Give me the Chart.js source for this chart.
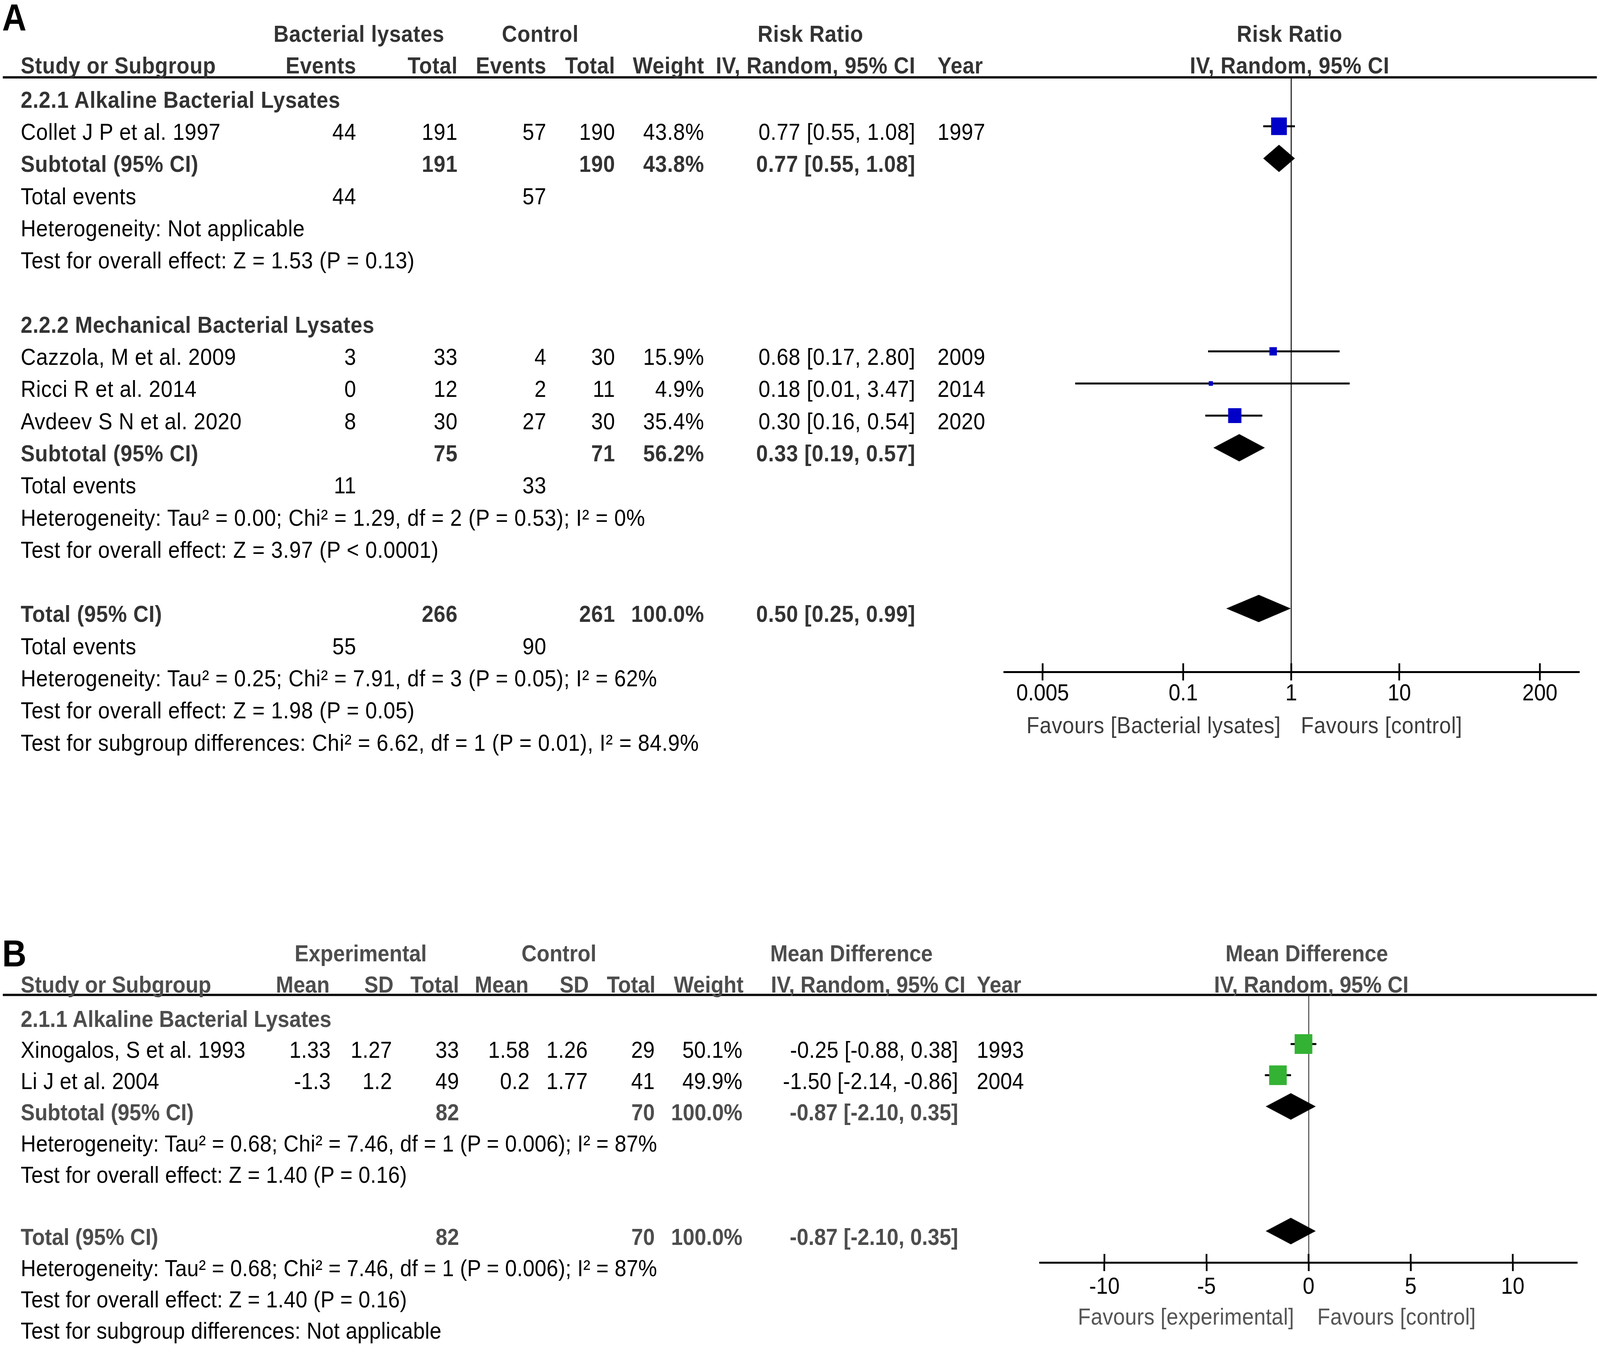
<!DOCTYPE html>
<html>
<head>
<meta charset="utf-8">
<script src="https://cdn.jsdelivr.net/npm/chart.js@4.4.1/dist/chart.umd.min.js"></script>
<style>
  html, body { margin: 0; padding: 0; background: #fff; overflow: hidden; }
  #page { position: absolute; left: 0; top: 0; width: 4562px; height: 3456px; overflow: hidden;
          transform-origin: 0 0; background: #fff; font-family: "Liberation Sans", Arial, sans-serif; }
  .t { position: absolute; white-space: nowrap; font-size: 60px; line-height: 60px; color: #000; }
  .b { font-weight: bold; }
  .rule { position: absolute; left: 8px; width: 4545px; height: 6px; background: #111; }
  canvas { position: absolute; }
</style>
</head>
<body>
<div id="page">
  <canvas id="chartA"></canvas>
  <canvas id="chartB"></canvas>
  <div class="rule" style="top:195px"></div>
  <div class="rule" style="top:2544px"></div>
</div>
<script>
// ---- Panel A: Risk Ratio, IV, Random, 95% CI ----
const studiesA = ['Collet J P et al. 1997', 'Cazzola, M et al. 2009', 'Ricci R et al. 2014', 'Avdeev S N et al. 2020'];
const rowA = [1, 8, 9, 10];
const eventsExpA = [44, 3, 0, 8];
const totalExpA = [191, 33, 12, 30];
const eventsCtlA = [57, 4, 2, 27];
const totalCtlA = [190, 30, 11, 30];
const weightA = [43.8, 15.9, 4.9, 35.4];
const rrA = [0.77, 0.68, 0.18, 0.30];
const rrLowA = [0.55, 0.17, 0.01, 0.16];
const rrHighA = [1.08, 2.80, 3.47, 0.54];
const yearA = [1997, 2009, 2014, 2020];

const pooledLabelA = ['Subtotal (95% CI)', 'Subtotal (95% CI)', 'Total (95% CI)'];
const pooledRowA = [2, 11, 16];
const pooledTotalExpA = [191, 75, 266];
const pooledTotalCtlA = [190, 71, 261];
const pooledWeightA = [43.8, 56.2, 100.0];
const pooledRrA = [0.77, 0.33, 0.50];
const pooledLowA = [0.55, 0.19, 0.25];
const pooledHighA = [1.08, 0.57, 0.99];

const totalEventsRowA = [3, 12, 17];
const totalEventsExpA = [44, 11, 55];
const totalEventsCtlA = [57, 33, 90];

const headingsA = [[0, '2.2.1 Alkaline Bacterial Lysates'], [7, '2.2.2 Mechanical Bacterial Lysates']];
const statsA = [
  [4, 'Heterogeneity: Not applicable'],
  [5, 'Test for overall effect: Z = 1.53 (P = 0.13)'],
  [13, 'Heterogeneity: Tau² = 0.00; Chi² = 1.29, df = 2 (P = 0.53); I² = 0%'],
  [14, 'Test for overall effect: Z = 3.97 (P < 0.0001)'],
  [18, 'Heterogeneity: Tau² = 0.25; Chi² = 7.91, df = 3 (P = 0.05); I² = 62%'],
  [19, 'Test for overall effect: Z = 1.98 (P = 0.05)'],
  [20, 'Test for subgroup differences: Chi² = 6.62, df = 1 (P = 0.01), I² = 84.9%']
];
const ticksA = [0.005, 0.1, 1, 10, 200];

// ---- Panel B: Mean Difference, IV, Random, 95% CI ----
const studiesB = ['Xinogalos, S et al. 1993', 'Li J et al. 2004'];
const rowB = [1, 2];
const meanExpB = [1.33, -1.3];
const sdExpB = [1.27, 1.2];
const totalExpB = [33, 49];
const meanCtlB = [1.58, 0.2];
const sdCtlB = [1.26, 1.77];
const totalCtlB = [29, 41];
const weightB = [50.1, 49.9];
const mdB = [-0.25, -1.50];
const mdLowB = [-0.88, -2.14];
const mdHighB = [0.38, -0.86];
const yearB = [1993, 2004];

const pooledLabelB = ['Subtotal (95% CI)', 'Total (95% CI)'];
const pooledRowB = [3, 7];
const pooledTotalExpB = [82, 82];
const pooledTotalCtlB = [70, 70];
const pooledWeightB = [100.0, 100.0];
const pooledMdB = [-0.87, -0.87];
const pooledLowB = [-2.10, -2.10];
const pooledHighB = [0.35, 0.35];

const headingsB = [[0, '2.1.1 Alkaline Bacterial Lysates']];
const statsB = [
  [4, 'Heterogeneity: Tau² = 0.68; Chi² = 7.46, df = 1 (P = 0.006); I² = 87%'],
  [5, 'Test for overall effect: Z = 1.40 (P = 0.16)'],
  [8, 'Heterogeneity: Tau² = 0.68; Chi² = 7.46, df = 1 (P = 0.006); I² = 87%'],
  [9, 'Test for overall effect: Z = 1.40 (P = 0.16)'],
  [10, 'Test for subgroup differences: Not applicable']
];
const ticksB = [-10, -5, 0, 5, 10];

// ---- layout (page pixels, 4562 x 3456 design) ----
const LA = { top: 198, axis: 1720, row0: 241, rowH: 82.3, canvasLeft: 2790, canvasTop: 150,
             padLeft: 73, padRight: 60, axisBox: 150, xMin: 0.0022, xMax: 460 };
const LB = { top: 2547, axis: 3232, row0: 2593, rowH: 79.8, canvasLeft: 2790, canvasTop: 2500,
             padLeft: 175, padRight: 66, axisBox: 150, xMin: -13.16, xMax: 13.14 };
const colA = { study: 59, evExp: 1016, totExp: 1305, evCtl: 1558, totCtl: 1754, weight: 2008, ci: 2610, year: 2673 };
const colB = { study: 59, meanExp: 943, sdExp: 1118, totExp: 1309, meanCtl: 1510, sdCtl: 1676, totCtl: 1867,
               weight: 2117, ci: 2732, year: 2785 };

const boldA = '#333';
const boldB = '#4d4d4d';
const page = document.getElementById('page');

// the browser may give a narrower window than asked; stretch the design to fill it
const sx = window.innerWidth / 4562;
const sy = window.innerHeight / 3456;
page.style.transform = 'scale(' + sx + ',' + sy + ')';
document.body.style.width = window.innerWidth + 'px';
document.body.style.height = window.innerHeight + 'px';

function put(text, x, y, align, opts) {
  opts = opts || {};
  const fs = opts.size || 60;
  const d = document.createElement('div');
  d.className = 't' + (opts.bold ? ' b' : '');
  d.textContent = text;
  d.style.fontSize = fs + 'px';
  d.style.lineHeight = fs + 'px';
  d.style.top = (y - 0.49 * fs) + 'px';
  if (opts.spacing) d.style.letterSpacing = opts.spacing + 'px';
  if (opts.color) d.style.color = opts.color;
  if (align === 'right') {
    d.style.right = (4562 - x) + 'px';
  } else if (align === 'center') {
    d.style.left = x + 'px';
    d.style.transform = 'translateX(-50%)';
  } else {
    d.style.left = x + 'px';
  }
  page.appendChild(d);
}

const ci = (e, l, h) => e.toFixed(2) + ' [' + l.toFixed(2) + ', ' + h.toFixed(2) + ']';
const yA = r => LA.row0 + LA.rowH * r + 14;
const yB = r => LB.row0 + LB.rowH * r + 15;
const squareSide = w => 7.8 + 0.85 * w;

// ---- text of panel A (its font runs a little wider) ----
const rA = { spacing: 0.8 };
const hA = { bold: true, color: boldA, spacing: 0.8 };
put('A', 6, 44, 'left', { bold: true, size: 96 });
put('Bacterial lysates', 780, 86, 'left', hA);
put('Control', 1431, 86, 'left', hA);
put('Risk Ratio', 2311, 86, 'center', hA);
put('Risk Ratio', 3677, 86, 'center', hA);
put('Study or Subgroup', 59, 167, 'left', hA);
put('Events', colA.evExp, 167, 'right', hA);
put('Total', colA.totExp, 167, 'right', hA);
put('Events', colA.evCtl, 167, 'right', hA);
put('Total', colA.totCtl, 167, 'right', hA);
put('Weight', colA.weight, 167, 'right', hA);
put('IV, Random, 95% CI', colA.ci, 167, 'right', hA);
put('Year', colA.year, 167, 'left', hA);
put('IV, Random, 95% CI', 3677, 167, 'center', hA);

headingsA.forEach(([r, s]) => put(s, colA.study, yA(r), 'left', hA));
studiesA.forEach((name, i) => {
  const y = yA(rowA[i]);
  put(name, colA.study, y, 'left', rA);
  put(String(eventsExpA[i]), colA.evExp, y, 'right', rA);
  put(String(totalExpA[i]), colA.totExp, y, 'right', rA);
  put(String(eventsCtlA[i]), colA.evCtl, y, 'right', rA);
  put(String(totalCtlA[i]), colA.totCtl, y, 'right', rA);
  put(weightA[i].toFixed(1) + '%', colA.weight, y, 'right', rA);
  put(ci(rrA[i], rrLowA[i], rrHighA[i]), colA.ci, y, 'right', rA);
  put(String(yearA[i]), colA.year, y, 'left', rA);
});
pooledLabelA.forEach((lab, i) => {
  const y = yA(pooledRowA[i]);
  put(lab, colA.study, y, 'left', hA);
  put(String(pooledTotalExpA[i]), colA.totExp, y, 'right', hA);
  put(String(pooledTotalCtlA[i]), colA.totCtl, y, 'right', hA);
  put(pooledWeightA[i].toFixed(1) + '%', colA.weight, y, 'right', hA);
  put(ci(pooledRrA[i], pooledLowA[i], pooledHighA[i]), colA.ci, y, 'right', hA);
});
totalEventsRowA.forEach((r, i) => {
  put('Total events', colA.study, yA(r), 'left', rA);
  put(String(totalEventsExpA[i]), colA.evExp, yA(r), 'right', rA);
  put(String(totalEventsCtlA[i]), colA.evCtl, yA(r), 'right', rA);
});
statsA.forEach(([r, s]) => put(s, colA.study, yA(r), 'left', rA));
put('Favours [Bacterial lysates]', 3652, 1856, 'right', { color: '#3c3c3c', spacing: 0.8 });
put('Favours [control]', 3709, 1856, 'left', { color: '#3c3c3c', spacing: 0.8 });

// ---- text of panel B ----
const rB = { spacing: 0.3 };
const hB = { bold: true, color: boldB };
put('B', 6, 2440, 'left', { bold: true, size: 96 });
put('Experimental', 840, 2440, 'left', hB);
put('Control', 1487, 2440, 'left', hB);
put('Mean Difference', 2196, 2440, 'left', hB);
put('Mean Difference', 3726, 2440, 'center', hB);
put('Study or Subgroup', 59, 2520, 'left', hB);
put('Mean', 940, 2520, 'right', hB);
put('SD', 1122, 2520, 'right', hB);
put('Total', 1309, 2520, 'right', hB);
put('Mean', 1507, 2520, 'right', hB);
put('SD', 1679, 2520, 'right', hB);
put('Total', 1869, 2520, 'right', hB);
put('Weight', 2120, 2520, 'right', hB);
put('IV, Random, 95% CI', 2198, 2520, 'left', hB);
put('Year', 2785, 2520, 'left', hB);
put('IV, Random, 95% CI', 3739, 2520, 'center', hB);

headingsB.forEach(([r, s]) => put(s, colB.study, yB(r), 'left', hB));
studiesB.forEach((name, i) => {
  const y = yB(rowB[i]);
  put(name, colB.study, y, 'left', rB);
  put(String(meanExpB[i]), colB.meanExp, y, 'right', rB);
  put(String(sdExpB[i]), colB.sdExp, y, 'right', rB);
  put(String(totalExpB[i]), colB.totExp, y, 'right', rB);
  put(String(meanCtlB[i]), colB.meanCtl, y, 'right', rB);
  put(String(sdCtlB[i]), colB.sdCtl, y, 'right', rB);
  put(String(totalCtlB[i]), colB.totCtl, y, 'right', rB);
  put(weightB[i].toFixed(1) + '%', colB.weight, y, 'right', rB);
  put(ci(mdB[i], mdLowB[i], mdHighB[i]), colB.ci, y, 'right', rB);
  put(String(yearB[i]), colB.year, y, 'left', rB);
});
pooledLabelB.forEach((lab, i) => {
  const y = yB(pooledRowB[i]);
  put(lab, colB.study, y, 'left', hB);
  put(String(pooledTotalExpB[i]), colB.totExp, y, 'right', hB);
  put(String(pooledTotalCtlB[i]), colB.totCtl, y, 'right', hB);
  put(pooledWeightB[i].toFixed(1) + '%', colB.weight, y, 'right', hB);
  put(ci(pooledMdB[i], pooledLowB[i], pooledHighB[i]), colB.ci, y, 'right', hB);
});
statsB.forEach(([r, s]) => put(s, colB.study, yB(r), 'left', rB));
put('Favours [experimental]', 3690, 3370, 'right', { color: '#555', spacing: 0.3 });
put('Favours [control]', 3756, 3370, 'left', { color: '#555', spacing: 0.3 });

// ---- forest plots ----
// diamonds for pooled estimates, plus the upper half of each axis tick
const forestPlugin = {
  id: 'forest',
  afterDatasetsDraw(chart, args, opts) {
    const { ctx, chartArea } = chart;
    const x = chart.scales.x, y = chart.scales.y;
    ctx.save();
    ctx.fillStyle = '#000';
    opts.est.forEach((v, i) => {
      const yc = y.getPixelForValue(opts.rows[i]);
      ctx.beginPath();
      ctx.moveTo(x.getPixelForValue(opts.low[i]), yc);
      ctx.lineTo(x.getPixelForValue(v), yc - opts.half);
      ctx.lineTo(x.getPixelForValue(opts.high[i]), yc);
      ctx.lineTo(x.getPixelForValue(v), yc + opts.half);
      ctx.closePath();
      ctx.fill();
    });
    ctx.strokeStyle = '#000';
    ctx.lineWidth = 5;
    x.ticks.forEach(t => {
      const px = x.getPixelForValue(t.value);
      ctx.beginPath();
      ctx.moveTo(px, chartArea.bottom);
      ctx.lineTo(px, chartArea.bottom - opts.tickUp);
      ctx.stroke();
    });
    ctx.restore();
  }
};

function makeForest(id, L, cfg) {
  const canvas = document.getElementById(id);
  canvas.width = 4562 - L.canvasLeft;
  canvas.height = (L.axis - L.canvasTop) + L.axisBox;
  canvas.style.left = L.canvasLeft + 'px';
  canvas.style.top = L.canvasTop + 'px';

  const whiskers = cfg.est.map((v, i) => ({
    data: [{ x: cfg.low[i], y: cfg.rows[i] }, { x: cfg.high[i], y: cfg.rows[i] }],
    showLine: true,
    borderColor: '#000',
    borderWidth: 5,
    pointRadius: 0,
    order: 2
  }));
  const squares = {
    data: cfg.est.map((v, i) => ({ x: v, y: cfg.rows[i] })),
    pointStyle: 'rect',
    pointRadius: c => squareSide(cfg.weight[c.dataIndex]) / Math.SQRT2,
    backgroundColor: cfg.color,
    borderWidth: 0,
    order: 1
  };

  return new Chart(canvas, {
    type: 'scatter',
    data: { datasets: whiskers.concat([squares]) },
    plugins: [forestPlugin],
    options: {
      responsive: false,
      devicePixelRatio: 1,
      animation: false,
      events: [],
      layout: { padding: { top: L.top - L.canvasTop, left: L.padLeft, right: L.padRight, bottom: 0 } },
      plugins: {
        legend: { display: false },
        tooltip: { enabled: false },
        forest: { est: cfg.pooledEst, low: cfg.pooledLow, high: cfg.pooledHigh, rows: cfg.pooledRows,
                  half: cfg.half, tickUp: 22 }
      },
      scales: {
        x: {
          type: cfg.xType,
          position: 'bottom',
          min: L.xMin,
          max: L.xMax,
          afterBuildTicks: s => { s.ticks = cfg.ticks.map(v => ({ value: v })); },
          afterFit: s => { s.height = L.axisBox; },
          grid: {
            drawOnChartArea: true,
            color: c => (c.tick && c.tick.value === cfg.ref) ? cfg.refColor : 'rgba(0,0,0,0)',
            lineWidth: 3,
            drawTicks: true,
            tickLength: 22,
            tickColor: '#000',
            tickWidth: 5
          },
          border: { display: true, color: '#000', width: 5 },
          ticks: {
            autoSkip: false,
            maxRotation: 0,
            padding: cfg.tickPad,
            color: '#000',
            font: { family: '"Liberation Sans", Arial, sans-serif', size: 60, lineHeight: 1 },
            callback: v => String(v)
          }
        },
        y: {
          type: 'linear',
          display: false,
          reverse: true,
          min: (L.top - L.row0) / L.rowH,
          max: (L.axis - L.row0) / L.rowH
        }
      }
    }
  });
}

makeForest('chartA', LA, {
  xType: 'logarithmic', ticks: ticksA, ref: 1, refColor: '#222', tickPad: 4,
  est: rrA, low: rrLowA, high: rrHighA, rows: rowA, weight: weightA, color: '#0000c8',
  pooledEst: pooledRrA, pooledLow: pooledLowA, pooledHigh: pooledHighA, pooledRows: pooledRowA, half: 35
});
makeForest('chartB', LB, {
  xType: 'linear', ticks: ticksB, ref: 0, refColor: '#555', tickPad: 11,
  est: mdB, low: mdLowB, high: mdHighB, rows: rowB, weight: weightB, color: '#34b234',
  pooledEst: pooledMdB, pooledLow: pooledLowB, pooledHigh: pooledHighB, pooledRows: pooledRowB, half: 34
});
</script>
</body>
</html>
